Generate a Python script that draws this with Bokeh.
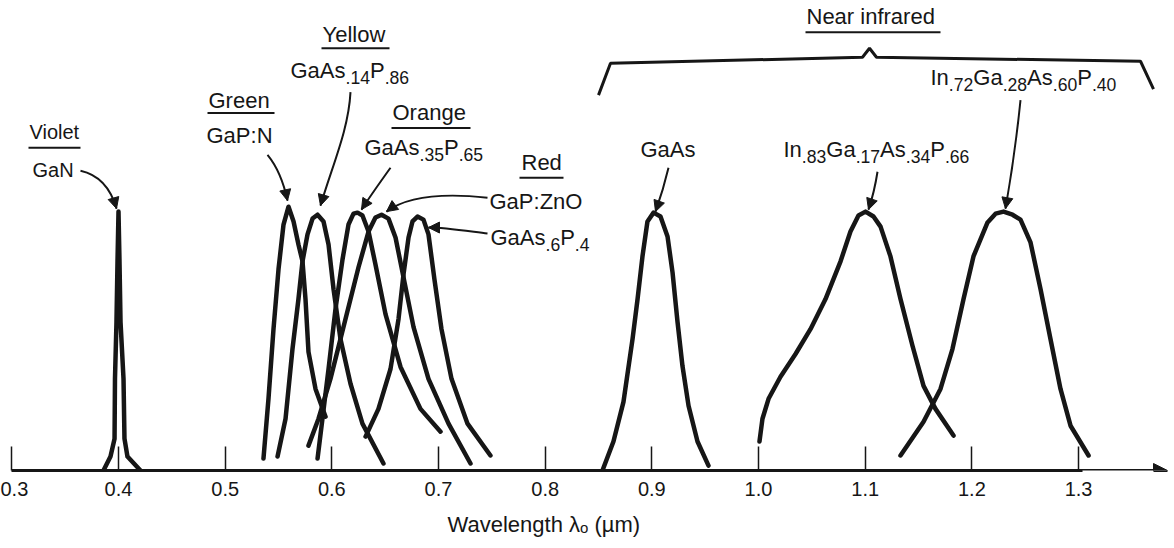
from bokeh.plotting import figure
from bokeh.models import (Range1d, LinearAxis, FixedTicker, PrintfTickFormatter,
                          Label, Arrow, NormalHead, Title)
from bokeh.embed import file_html
from bokeh.resources import INLINE

# ---------------- data (wavelength in µm, relative intensity) ----------------
tick_values = [0.3, 0.4, 0.5, 0.6, 0.7, 0.8, 0.9, 1.0, 1.1, 1.2, 1.3]
axis_title = "Wavelength λₒ (µm)"

gan_wl = [0.3859, 0.3925, 0.3963, 0.3967, 0.3981, 0.3991, 0.4000, 0.4009, 0.4019, 0.4047, 0.4056, 0.4084, 0.4206]
gan_i = [0.0, 0.054, 0.123, 0.354, 0.573, 0.815, 1.0, 0.815, 0.573, 0.354, 0.123, 0.054, 0.0]

gapn_wl = [0.5359, 0.5406, 0.5453, 0.5500, 0.5547, 0.5594, 0.5641, 0.5687, 0.5725, 0.5753, 0.5781, 0.5847, 0.5941]
gapn_i = [0.046, 0.277, 0.546, 0.777, 0.950, 1.019, 0.962, 0.873, 0.808, 0.662, 0.458, 0.315, 0.208]

yel_wl = [0.5491, 0.5566, 0.5631, 0.5687, 0.5725, 0.5772, 0.5819, 0.5866, 0.5922, 0.5969, 0.6016, 0.6081, 0.6175, 0.6287, 0.6484]
yel_i = [0.054, 0.200, 0.469, 0.662, 0.808, 0.912, 0.973, 0.988, 0.962, 0.873, 0.700, 0.508, 0.335, 0.181, 0.027]

ora_wl = [0.5866, 0.5912, 0.5969, 0.6034, 0.6100, 0.6156, 0.6203, 0.6241, 0.6287, 0.6344, 0.6409, 0.6503, 0.6644, 0.6831, 0.7019]
ora_i = [0.046, 0.200, 0.392, 0.623, 0.815, 0.950, 0.992, 0.996, 0.985, 0.923, 0.796, 0.604, 0.400, 0.238, 0.150]

red_wl = [0.5781, 0.5875, 0.5987, 0.6128, 0.6250, 0.6344, 0.6409, 0.6466, 0.6531, 0.6597, 0.6672, 0.6766, 0.6906, 0.7094, 0.7300]
red_i = [0.096, 0.200, 0.354, 0.585, 0.785, 0.923, 0.977, 0.988, 0.973, 0.900, 0.746, 0.554, 0.354, 0.181, 0.027]

gaasp_wl = [0.6316, 0.6437, 0.6550, 0.6625, 0.6672, 0.6719, 0.6756, 0.6803, 0.6859, 0.6906, 0.6962, 0.7028, 0.7122, 0.7272, 0.7487]
gaasp_i = [0.131, 0.238, 0.392, 0.585, 0.758, 0.900, 0.962, 0.981, 0.969, 0.912, 0.738, 0.546, 0.354, 0.181, 0.058]

gaas_wl = [0.8537, 0.8640, 0.8734, 0.8819, 0.8866, 0.8912, 0.8959, 0.9016, 0.9081, 0.9147, 0.9194, 0.9241, 0.9287, 0.9344, 0.9428, 0.9531]
gaas_i = [0.0, 0.112, 0.265, 0.508, 0.662, 0.827, 0.962, 0.996, 0.981, 0.904, 0.765, 0.573, 0.404, 0.250, 0.112, 0.019]

in83_wl = [1.0009, 1.0037, 1.0094, 1.0206, 1.0347, 1.0487, 1.0628, 1.0769, 1.0862, 1.0937, 1.1003, 1.1078, 1.1144, 1.1237, 1.1331, 1.1444, 1.1547, 1.1659, 1.1828]
in83_i = [0.112, 0.200, 0.277, 0.362, 0.450, 0.546, 0.662, 0.808, 0.923, 0.985, 1.0, 0.981, 0.942, 0.827, 0.662, 0.481, 0.327, 0.238, 0.135]

in72_wl = [1.1331, 1.1547, 1.1706, 1.1818, 1.1922, 1.2015, 1.2147, 1.2222, 1.2297, 1.2381, 1.2456, 1.2550, 1.2644, 1.2737, 1.2831, 1.2925, 1.3094]
in72_i = [0.058, 0.188, 0.315, 0.469, 0.662, 0.827, 0.958, 0.992, 1.0, 0.988, 0.969, 0.881, 0.700, 0.508, 0.315, 0.173, 0.058]

curves = [(gan_wl, gan_i), (gapn_wl, gapn_i), (yel_wl, yel_i), (ora_wl, ora_i),
          (red_wl, red_i), (gaasp_wl, gaasp_i), (gaas_wl, gaas_i),
          (in83_wl, in83_i), (in72_wl, in72_i)]

# ---------------- figure ----------------
INK = "#161616"
FONT = "Liberation Sans"
W, H = 1172, 548
PXU = 1066.7            # pixels per µm
X0 = 0.4 - 118 / PXU
X1 = X0 + W / PXU
FRAME_H = 472
Y1 = FRAME_H / 260.0

p = figure(width=W, height=H, output_backend="svg", toolbar_location=None,
           x_axis_type=None, y_axis_type=None,
           x_range=Range1d(X0, X1), y_range=Range1d(0, Y1),
           min_border_left=0, min_border_right=0, min_border_top=0,
           min_border_bottom=H - FRAME_H)
p.outline_line_color = None
p.grid.visible = False
p.background_fill_color = "white"
p.border_fill_color = "white"


def X(px):
    return 0.4 + (px - 118) / PXU


def Y(py):
    return (472 - py) / 260.0


xaxis = LinearAxis(ticker=FixedTicker(ticks=tick_values),
                   formatter=PrintfTickFormatter(format="%.1f"),
                   bounds=(0.3, 1.304))
xaxis.axis_line_width = 3
xaxis.axis_line_color = INK
xaxis.major_tick_in = 24
xaxis.major_tick_out = 0
xaxis.major_tick_line_width = 1.5
xaxis.major_tick_line_color = INK
xaxis.minor_tick_line_color = None
xaxis.major_label_standoff = 11
xaxis.major_label_text_font = FONT
xaxis.major_label_text_font_size = "20px"
xaxis.major_label_text_color = INK
p.add_layout(xaxis, "below")

# axis title, placed left-aligned under the axis like the original
p.add_layout(Title(text=axis_title, align="left", offset=447, standoff=23,
                   text_font=FONT, text_font_size="22px", text_font_style="normal",
                   text_color=INK), "below")

# continuation of the axis line with the arrow head
p.add_layout(Arrow(end=NormalHead(size=14, fill_color=INK, line_color=INK),
                   x_start=1.30, y_start=0, x_end=X(1167), y_end=0,
                   line_width=3, line_color=INK))

for wl, it in curves:
    p.line(wl, it, line_width=4.5, line_color=INK, line_join="round", line_cap="round")

# ---------------- text helpers ----------------
CW = {'G': 0.778, 'a': 0.556, 'A': 0.667, 's': 0.5, 'P': 0.667, '.': 0.278, ':': 0.278,
      'N': 0.722, 'Z': 0.611, 'n': 0.556, 'O': 0.778, 'I': 0.278, 'e': 0.556, 'l': 0.222,
      'o': 0.556, 'w': 0.722, 'Y': 0.667, 'r': 0.333, 'g': 0.556, 'R': 0.722, 'd': 0.556,
      'V': 0.667, 'i': 0.222, 't': 0.278, ' ': 0.278, 'f': 0.278, 'W': 0.944, 'h': 0.556,
      'm': 0.833, 'u': 0.556, 'v': 0.5, '(': 0.333, ')': 0.333, 'µ': 0.576, 'λ': 0.556}


def tw(s, size):
    return sum(CW.get(c, 0.556) for c in s) * size


def rich(x_px, cy_px, parts, size=22):
    x = x_px
    for s, kind in parts:
        if kind == "sub":
            fs = size * 0.80
            cy = cy_px + size * 0.32
        else:
            fs = size
            cy = cy_px
        p.add_layout(Label(x=X(x), y=Y(cy), text=s, text_font=FONT,
                           text_font_size=f"{fs:.1f}px", text_color=INK,
                           text_baseline="middle", text_align="left"))
        x += tw(s, fs)
    return x


def under(x0, x1, y):
    p.line([X(x0), X(x1)], [Y(y), Y(y)], line_width=2, line_color=INK)


def arrow(pts, lw=2):
    (sx, sy), (c1x, c1y), (c2x, c2y), (ex, ey) = pts
    p.bezier(x0=[X(sx)], y0=[Y(sy)], x1=[X(ex)], y1=[Y(ey)],
             cx0=[X(c1x)], cy0=[Y(c1y)], cx1=[X(c2x)], cy1=[Y(c2y)],
             line_width=lw, line_color=INK)
    dx, dy = ex - c2x, ey - c2y
    n = (dx * dx + dy * dy) ** 0.5 or 1.0
    bx, by = ex - dx / n * 6, ey - dy / n * 6
    p.add_layout(Arrow(end=NormalHead(size=11, fill_color=INK, line_color=INK),
                       x_start=X(bx), y_start=Y(by), x_end=X(ex), y_end=Y(ey),
                       line_width=lw, line_color=INK))


# ---------------- labels ----------------
rich(29, 132, [("Violet", "n")], 20)
under(28, 80, 148)
rich(32, 170, [("GaN", "n")], 20)
arrow([(80, 171), (98, 175), (110, 188), (116, 209)])

rich(208, 100, [("Green", "n")])
under(207, 274, 113)
rich(206, 136, [("GaP:N", "n")])
arrow([(267, 155), (276, 166), (283, 182), (287, 201)])

rich(322, 34, [("Yellow", "n")])
under(321, 389, 48)
rich(290, 70, [("GaAs", "n"), (".14", "sub"), ("P", "n"), (".86", "sub")])
arrow([(350, 92), (348, 130), (332, 165), (320, 206)])

rich(392, 112, [("Orange", "n")])
under(391, 470, 128)
rich(364, 148, [("GaAs", "n"), (".35", "sub"), ("P", "n"), (".65", "sub")])
arrow([(390, 168), (380, 182), (370, 196), (361, 210)])

rich(521, 163, [("Red", "n")])
under(519, 563, 178)
rich(489, 202, [("GaP:ZnO", "n")])
arrow([(487, 198), (450, 194), (410, 194), (386, 212)])

rich(490, 238, [("GaAs", "n"), (".6", "sub"), ("P", "n"), (".4", "sub")])
arrow([(487, 234), (470, 232), (445, 228), (428, 228)])

rich(806, 16, [("Near infrared", "n")])
under(805, 940, 32)
p.line([X(598), X(610), X(862), X(869), X(876), X(1140), X(1153)],
       [Y(95), Y(63), Y(57), Y(48), Y(57), Y(61), Y(89)],
       line_width=3, line_color=INK)

rich(640, 150, [("GaAs", "n")])
arrow([(668, 168), (664, 185), (660, 198), (655, 212)])

rich(783, 150, [("In", "n"), (".83", "sub"), ("Ga", "n"), (".17", "sub"),
                ("As", "n"), (".34", "sub"), ("P", "n"), (".66", "sub")])
arrow([(877, 172), (875, 185), (872, 198), (868, 210)])

rich(930, 77, [("In", "n"), (".72", "sub"), ("Ga", "n"), (".28", "sub"),
               ("As", "n"), (".60", "sub"), ("P", "n"), (".40", "sub")])
arrow([(1020, 100), (1016, 140), (1010, 180), (1005, 209)])

open("out.html", "w").write(file_html(p, INLINE))
